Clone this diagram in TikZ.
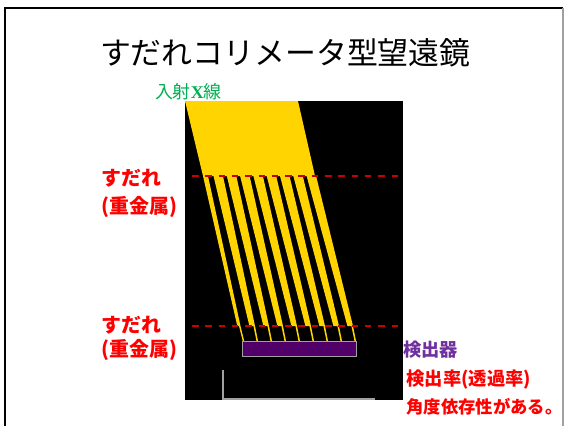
\documentclass[tikz,border=0pt]{standalone}
\usepackage{fontspec}
\newfontfamily\jp{Noto Sans CJK JP}
\newfontfamily\serifx{Liberation Serif}
\definecolor{beam}{RGB}{255,212,0}
\definecolor{dashred}{RGB}{200,0,0}
\definecolor{lblred}{RGB}{255,0,0}
\definecolor{lblgreen}{RGB}{0,176,80}
\definecolor{lblpurple}{RGB}{112,48,160}
\definecolor{detfill}{RGB}{80,0,104}
\definecolor{linegray}{RGB}{160,160,160}
\tikzset{
  lbl/.style={anchor=west, inner sep=0pt, outer sep=0pt},
  grid/.style={draw=dashred, line width=2.2bp, dash pattern=on 6.5bp off 6.8bp},
  stripe/.style={fill=beam, draw=none},
}
\begin{document}
\begin{tikzpicture}[x=1bp,y=-1bp]
\useasboundingbox (0,0) rectangle (565,426);
\fill[white] (0,0) rectangle (565,426);
% slide frame
\draw[black, line width=2.6bp] (5,426) -- (5,8) -- (563,8);
\draw[linegray, line width=1.2bp] (563,8) -- (563,426);
% title
\node[lbl, font=\jp\fontsize{31}{31}\selectfont] (title) at (100,53) {すだれコリメータ型望遠鏡};
% black panel
\fill[black] (185,101) rectangle (403,400);
% incident beam above the upper grid
\fill[stripe] (185,101) -- (298,101) -- (315,176) -- (203,176) -- cycle;
% stripe 0 (narrow)
\fill[stripe] (203,176) -- (208,176) -- (240.5,326) -- (244.2,341) -- (242.7,341) -- (239,326) -- (237.3,326) -- cycle;
% stripes 1..8
\foreach \i in {1,...,8}{
  \pgfmathsetmacro{\a}{213.5+13.3*(\i-1)}
  \pgfmathsetmacro{\c}{249.4+14*(\i-1)}
  \fill[stripe] (\a,176) -- ({\a+9.5},176) -- ({\c+5.6},326) -- ({\c+8.6},341) -- ({\c+7.1},341) -- ({\c+4},326) -- (\c,326) -- cycle;
}
% grids (dashed)
\coordinate (g1a) at (192,176);
\coordinate (g1b) at (403,176);
\coordinate (g2a) at (192,326);
\coordinate (g2b) at (403,326);
\draw[grid] (g1a) -- (g1b);
\draw[grid] (g2a) -- (g2b);
% detector
\node[draw=linegray, line width=1bp, fill=detfill, minimum width=113.4bp, minimum height=15.3bp, inner sep=0, anchor=north west] (det) at (242.3,340.7) {};
% gray axis
\coordinate (ax1) at (223,369.5);
\coordinate (ax2) at (223,398.5);
\coordinate (ax3) at (375,398.5);
\draw[linegray, line width=2bp] (ax1) -- (ax2) -- (ax3);
% labels
\node[lbl, text=lblgreen, font=\jp\fontsize{18}{18}\selectfont] (incident) at (155,92) {入射{\serifx\bfseries X}線};
\node[lbl, text=lblred, font=\jp\bfseries\fontsize{20}{20}\selectfont] (sud1) at (101.5,178) {すだれ};
\node[lbl, text=lblred, font=\jp\bfseries\fontsize{20}{20}\selectfont] (met1) at (101.5,206.5) {(重金属)};
\node[lbl, text=lblred, font=\jp\bfseries\fontsize{20}{20}\selectfont] (sud2) at (101.5,325) {すだれ};
\node[lbl, text=lblred, font=\jp\bfseries\fontsize{20}{20}\selectfont] (met2) at (101.5,350) {(重金属)};
\node[lbl, text=lblpurple, font=\jp\bfseries\fontsize{18.3}{18.3}\selectfont] (detlbl) at (403.5,350) {検出器};
\node[lbl, text=lblred, font=\jp\bfseries\fontsize{18.4}{18.4}\selectfont] (eff1) at (406.5,380) {検出率(透過率)};
\node[lbl, text=lblred, font=\jp\bfseries\fontsize{17.4}{17.4}\selectfont] (eff2) at (406.5,406.5) {角度依存性がある。};
\end{tikzpicture}
\end{document}
